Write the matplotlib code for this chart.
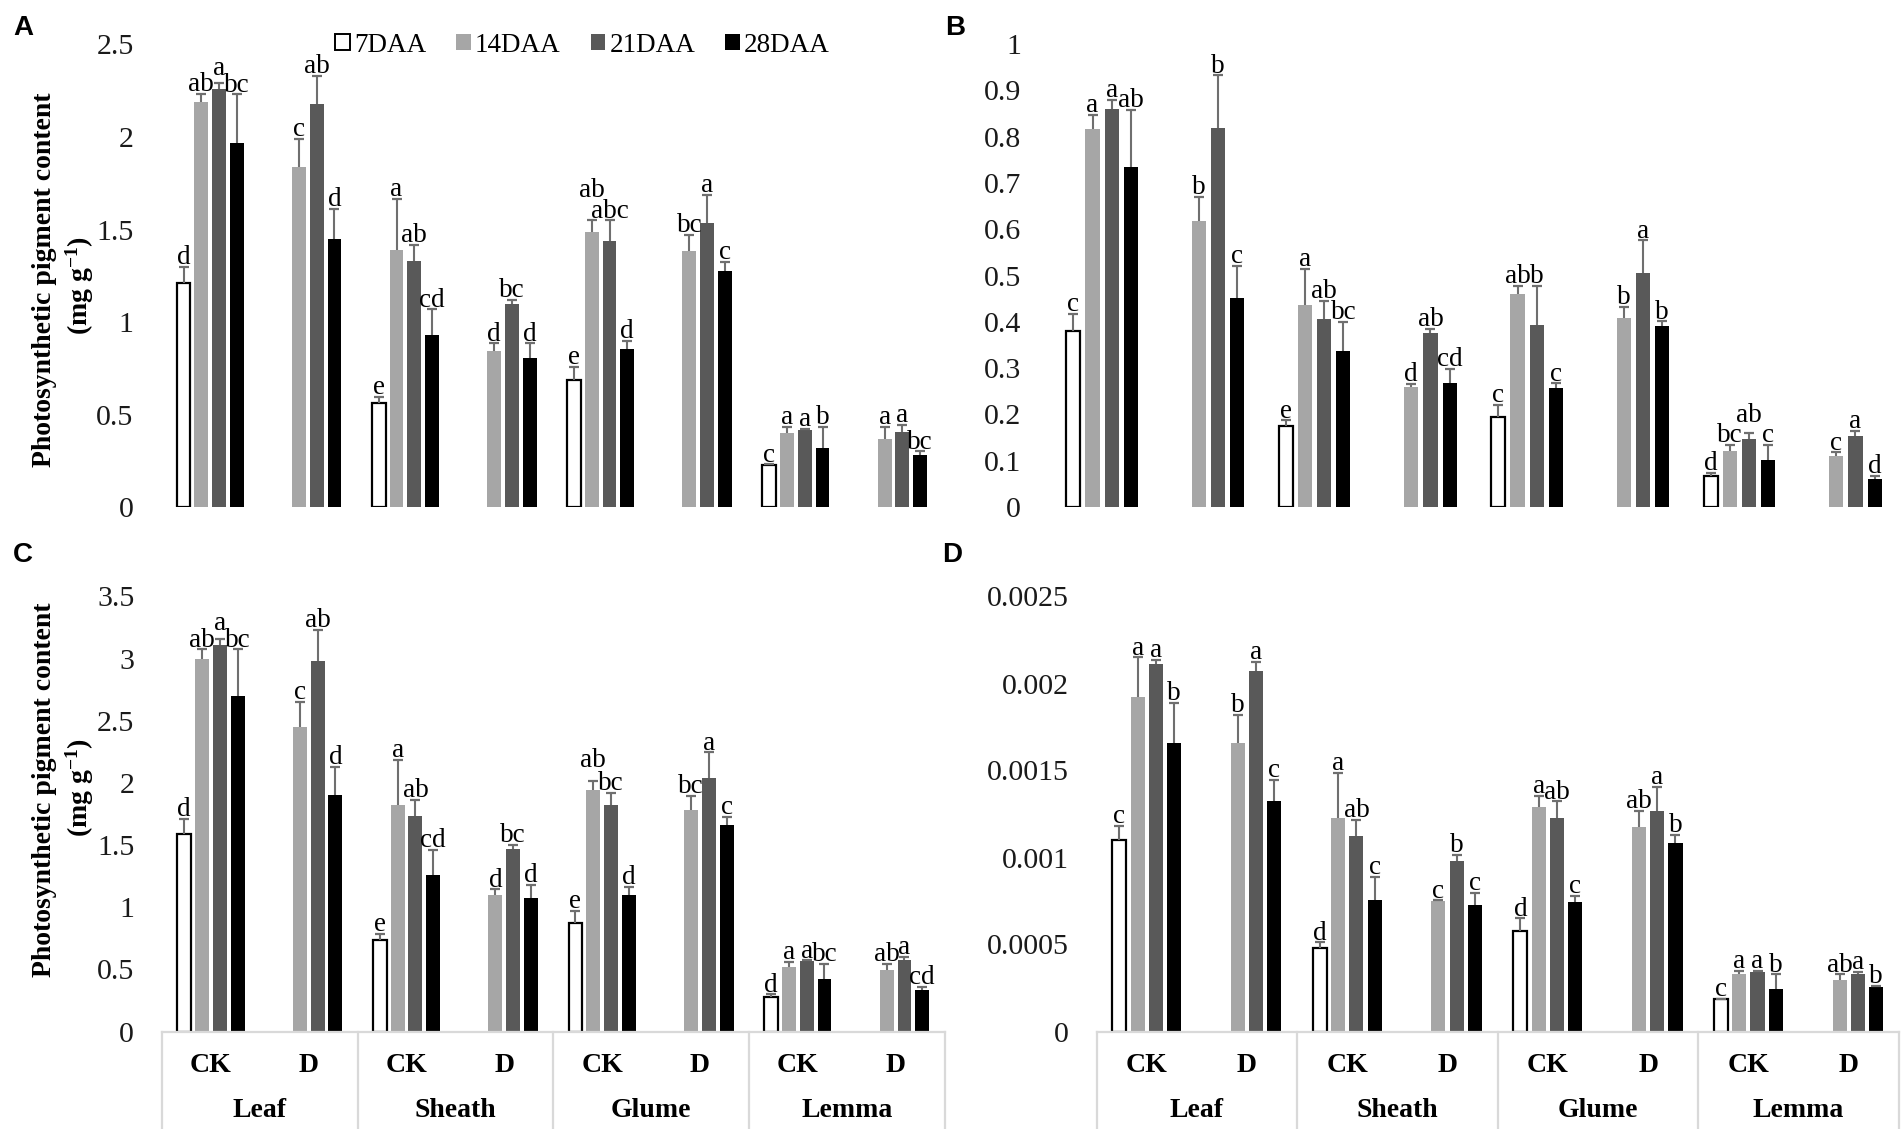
import numpy as np
import matplotlib
matplotlib.use("Agg")
import matplotlib.pyplot as plt
from matplotlib.patches import Patch
from matplotlib.ticker import FuncFormatter, MultipleLocator

plt.rcParams['font.family'] = ['Liberation Serif', 'DejaVu Serif']
plt.rcParams['mathtext.fontset'] = 'custom'
plt.rcParams['mathtext.rm'] = 'Liberation Serif:bold'
plt.rcParams['mathtext.bf'] = 'Liberation Serif:bold'
plt.rcParams['mathtext.default'] = 'rm'

nan = np.nan
treatments = ['CK', 'D', 'CK', 'D', 'CK', 'D', 'CK', 'D']
tissues = ['Leaf', 'Sheath', 'Glume', 'Lemma']
series_names = ['7DAA', '14DAA', '21DAA', '28DAA']

# ---------------- Panel A ----------------
A_mean_7 = [1.21, nan, 0.563, nan, 0.684, nan, 0.225, nan]
A_mean_14 = [2.187, 1.84, 1.389, 0.845, 1.487, 1.383, 0.399, 0.367]
A_mean_21 = [2.257, 2.176, 1.33, 1.098, 1.437, 1.537, 0.417, 0.403]
A_mean_28 = [1.968, 1.45, 0.929, 0.806, 0.854, 1.276, 0.319, 0.283]
A_se_7 = [0.09, nan, 0.032, nan, 0.072, nan, 0.005, nan]
A_se_14 = [0.048, 0.15, 0.276, 0.039, 0.062, 0.086, 0.036, 0.068]
A_se_21 = [0.033, 0.154, 0.085, 0.022, 0.112, 0.149, 0.005, 0.041]
A_se_28 = [0.262, 0.16, 0.139, 0.078, 0.044, 0.047, 0.116, 0.018]
A_let_7 = ['d', '', 'e', '', 'e', '', 'c', '']
A_let_14 = ['ab', 'c', 'a', 'd', 'ab', 'bc', 'a', 'a']
A_let_21 = ['a', 'ab', 'ab', 'bc', 'abc', 'a', 'a', 'a']
A_let_28 = ['bc', 'd', 'cd', 'd', 'd', 'c', 'b', 'bc']

# ---------------- Panel B ----------------
B_mean_7 = [0.381, nan, 0.174, nan, 0.194, nan, 0.068, nan]
B_mean_14 = [0.817, 0.617, 0.437, 0.259, 0.459, 0.408, 0.122, 0.11]
B_mean_21 = [0.86, 0.819, 0.406, 0.375, 0.394, 0.506, 0.147, 0.154]
B_mean_28 = [0.734, 0.451, 0.336, 0.267, 0.256, 0.39, 0.102, 0.06]
B_se_7 = [0.036, nan, 0.013, nan, 0.026, nan, 0.005, nan]
B_se_14 = [0.03, 0.052, 0.077, 0.007, 0.018, 0.024, 0.012, 0.008]
B_se_21 = [0.02, 0.113, 0.04, 0.01, 0.083, 0.07, 0.013, 0.01]
B_se_28 = [0.123, 0.069, 0.063, 0.031, 0.011, 0.011, 0.032, 0.008]
B_let_7 = ['c', '', 'e', '', 'c', '', 'd', '']
B_let_14 = ['a', 'b', 'a', 'd', 'ab', 'b', 'bc', 'c']
B_let_21 = ['a', 'b', 'ab', 'ab', 'b', 'a', 'ab', 'a']
B_let_28 = ['ab', 'c', 'bc', 'cd', 'c', 'b', 'c', 'd']

# ---------------- Panel C ----------------
C_mean_7 = [1.593, nan, 0.733, nan, 0.87, nan, 0.28, nan]
C_mean_14 = [2.997, 2.447, 1.82, 1.096, 1.941, 1.78, 0.522, 0.497]
C_mean_21 = [3.106, 2.981, 1.733, 1.469, 1.826, 2.043, 0.568, 0.575]
C_mean_28 = [2.696, 1.9, 1.261, 1.075, 1.102, 1.661, 0.419, 0.335]
C_se_7 = [0.115, nan, 0.053, nan, 0.102, nan, 0.018, nan]
C_se_14 = [0.078, 0.202, 0.363, 0.047, 0.078, 0.114, 0.04, 0.046]
C_se_21 = [0.054, 0.249, 0.13, 0.031, 0.093, 0.202, 0.005, 0.025]
C_se_28 = [0.379, 0.227, 0.199, 0.105, 0.063, 0.063, 0.124, 0.025]
C_let_7 = ['d', '', 'e', '', 'e', '', 'd', '']
C_let_14 = ['ab', 'c', 'a', 'd', 'ab', 'bc', 'a', 'ab']
C_let_21 = ['a', 'ab', 'ab', 'bc', 'bc', 'a', 'a', 'a']
C_let_28 = ['bc', 'd', 'cd', 'd', 'd', 'c', 'bc', 'cd']

# ---------------- Panel D ----------------
D_mean_7 = [0.0011, nan, 0.000479, nan, 0.000579, nan, 0.000184, nan]
D_mean_14 = [0.001925, 0.001659, 0.001226, 0.000749, 0.001293, 0.001175, 0.000328, 0.000295]
D_mean_21 = [0.00211, 0.002073, 0.001126, 0.000982, 0.001226, 0.00127, 0.000344, 0.000328]
D_mean_28 = [0.001659, 0.001326, 0.000756, 0.000727, 0.000743, 0.001086, 0.000244, 0.000255]
D_se_7 = [0.00008, nan, 0.000033, nan, 0.000071, nan, 0.000004, nan]
D_se_14 = [0.000225, 0.000159, 0.00026, 0.000005, 0.00006, 0.000091, 0.000022, 0.000033]
D_se_21 = [0.000025, 0.000051, 0.000089, 0.000034, 0.000096, 0.000138, 0.000004, 0.000016]
D_se_28 = [0.000231, 0.000122, 0.000131, 0.000071, 0.000035, 0.000045, 0.000084, 0.000007]
D_let_7 = ['c', '', 'd', '', 'd', '', 'c', '']
D_let_14 = ['a', 'b', 'a', 'c', 'a', 'ab', 'a', 'ab']
D_let_21 = ['a', 'a', 'ab', 'b', 'ab', 'a', 'a', 'a']
D_let_28 = ['b', 'c', 'c', 'c', 'c', 'b', 'b', 'b']

A_ylim, A_step = 2.5, 0.5
B_ylim, B_step = 1.0, 0.1
C_ylim, C_step = 3.5, 0.5
D_ylim, D_step = 0.0025, 0.0005

# ---------------- style ----------------
fill_colors = ['#FFFFFF', '#A6A6A6', '#595959', '#000000']
edge_colors = ['#000000', '#A6A6A6', '#595959', '#000000']
edge_widths = [1.6, 0, 0, 0]
err_color = '#6F6F6F'
axis_gray = '#D9D9D9'
W, H = 1904, 1129

fig = plt.figure(figsize=(W / 100, H / 100), dpi=100)


def fig_rect(x0, x1, ytop, yzero):
    return [x0 / W, 1 - yzero / H, (x1 - x0) / W, (yzero - ytop) / H]


axA = fig.add_axes(fig_rect(161.4, 942.3, 44.5, 507.0))
axB = fig.add_axes(fig_rect(1049.0, 1899.0, 44.0, 507.0))
axC = fig.add_axes(fig_rect(162.0, 944.5, 596.5, 1031.5))
axD = fig.add_axes(fig_rect(1096.6, 1898.8, 596.5, 1031.5))


def fmt(v, pos):
    return '%g' % round(v, 6)


def draw(ax, means, ses, lets, ymax, ystep, bottom_axis, bar_w=0.142, step=0.182,
         cap_ms=7.5, raise_pts=None):
    raise_pts = raise_pts or {}
    x = np.arange(len(treatments))
    offs = (np.arange(len(series_names)) - (len(series_names) - 1) / 2) * step
    for i in range(len(series_names)):
        m = np.asarray(means[i], float)
        e = np.asarray(ses[i], float)
        ok = ~np.isnan(m)
        xi = x[ok] + offs[i]
        ax.bar(xi, m[ok], width=bar_w, color=fill_colors[i], edgecolor=edge_colors[i],
               linewidth=edge_widths[i], zorder=2)
        ax.vlines(xi, m[ok], m[ok] + e[ok], color=err_color, lw=1.5, zorder=3)
        ax.plot(xi, m[ok] + e[ok], linestyle='none', marker='_', markersize=cap_ms,
                markeredgewidth=1.6, color=err_color, zorder=3)
        for k, xx, mm, ee, lab in zip(x[ok], xi, m[ok], e[ok], np.asarray(lets[i])[ok]):
            if lab:
                dy = 2.0 + raise_pts.get((int(k), i), 0)
                ax.annotate(lab, (xx, mm + ee), xytext=(0, dy), textcoords='offset points',
                            ha='center', va='baseline', fontsize=19.5, color='black', zorder=4)
    ax.set_xlim(-0.5, len(treatments) - 0.5)
    ax.set_ylim(0, ymax)
    ax.yaxis.set_major_locator(MultipleLocator(ystep))
    ax.yaxis.set_major_formatter(FuncFormatter(fmt))
    ax.tick_params(axis='y', length=0, pad=20, labelsize=21.5, labelcolor='#1A1A1A')
    ax.set_xticks([])
    for s in ['top', 'right', 'left']:
        ax.spines[s].set_visible(False)
    if bottom_axis:
        ax.spines['bottom'].set_color(axis_gray)
        ax.spines['bottom'].set_linewidth(1.6)
        tr = ax.get_xaxis_transform()
        bounds = np.arange(0, len(treatments) + 1, 2) - 0.5
        for b in bounds:
            ax.plot([b, b], [0, -0.24], transform=tr, clip_on=False, color=axis_gray, lw=1.6)
        for i, t in enumerate(treatments):
            ax.text(i, -0.0924, t, transform=tr, ha='center', va='baseline',
                    fontsize=20, fontweight='bold')
        for g, t in enumerate(tissues):
            ax.text(2 * g + 0.5, -0.1959, t, transform=tr, ha='center', va='baseline',
                    fontsize=20, fontweight='bold')
    else:
        ax.spines['bottom'].set_visible(False)


draw(axA, [A_mean_7, A_mean_14, A_mean_21, A_mean_28], [A_se_7, A_se_14, A_se_21, A_se_28],
     [A_let_7, A_let_14, A_let_21, A_let_28], A_ylim, A_step, False,
     raise_pts={(4, 1): 15, (0, 2): 4})
draw(axB, [B_mean_7, B_mean_14, B_mean_21, B_mean_28], [B_se_7, B_se_14, B_se_21, B_se_28],
     [B_let_7, B_let_14, B_let_21, B_let_28], B_ylim, B_step, False, bar_w=0.132, step=0.181,
     raise_pts={(6, 2): 6})
draw(axC, [C_mean_7, C_mean_14, C_mean_21, C_mean_28], [C_se_7, C_se_14, C_se_21, C_se_28],
     [C_let_7, C_let_14, C_let_21, C_let_28], C_ylim, C_step, True,
     raise_pts={(4, 1): 8, (0, 2): 4})
draw(axD, [D_mean_7, D_mean_14, D_mean_21, D_mean_28], [D_se_7, D_se_14, D_se_21, D_se_28],
     [D_let_7, D_let_14, D_let_21, D_let_28], D_ylim, D_step, True, bar_w=0.14)

# Y-axis labels (panels A and C)
for yc1, yc2 in [(280, 286), (790, 788)]:
    fig.text(45 / W, 1 - yc1 / H, 'Photosynthetic pigment content', rotation=90,
             ha='center', va='center', fontsize=20, fontweight='bold')
    fig.text(80 / W, 1 - yc2 / H, r'(mg g$^{-1}$)', rotation=90,
             ha='center', va='center', fontsize=20, fontweight='bold')

# Panel letters
for lab, xx, yy in [('A', 23, 28), ('B', 955, 28), ('C', 23, 555), ('D', 952, 555)]:
    fig.text(xx / W, 1 - yy / H, lab, ha='center', va='center', fontsize=20,
             fontweight='bold', family=['Liberation Sans', 'DejaVu Sans'])

# Legend
handles = [Patch(facecolor=fill_colors[i], edgecolor=edge_colors[i] if i == 0 else fill_colors[i],
                 linewidth=1.4 if i == 0 else 0) for i in range(len(series_names))]
fig.legend(handles, series_names, loc='center right', bbox_to_anchor=(830 / W, 1 - 45 / H),
           ncol=4, frameon=False, fontsize=19.5, handlelength=0.55, handleheight=0.55,
           handletextpad=0.15, columnspacing=1.1, borderaxespad=0, borderpad=0)

fig.savefig('out.png', dpi=100)
